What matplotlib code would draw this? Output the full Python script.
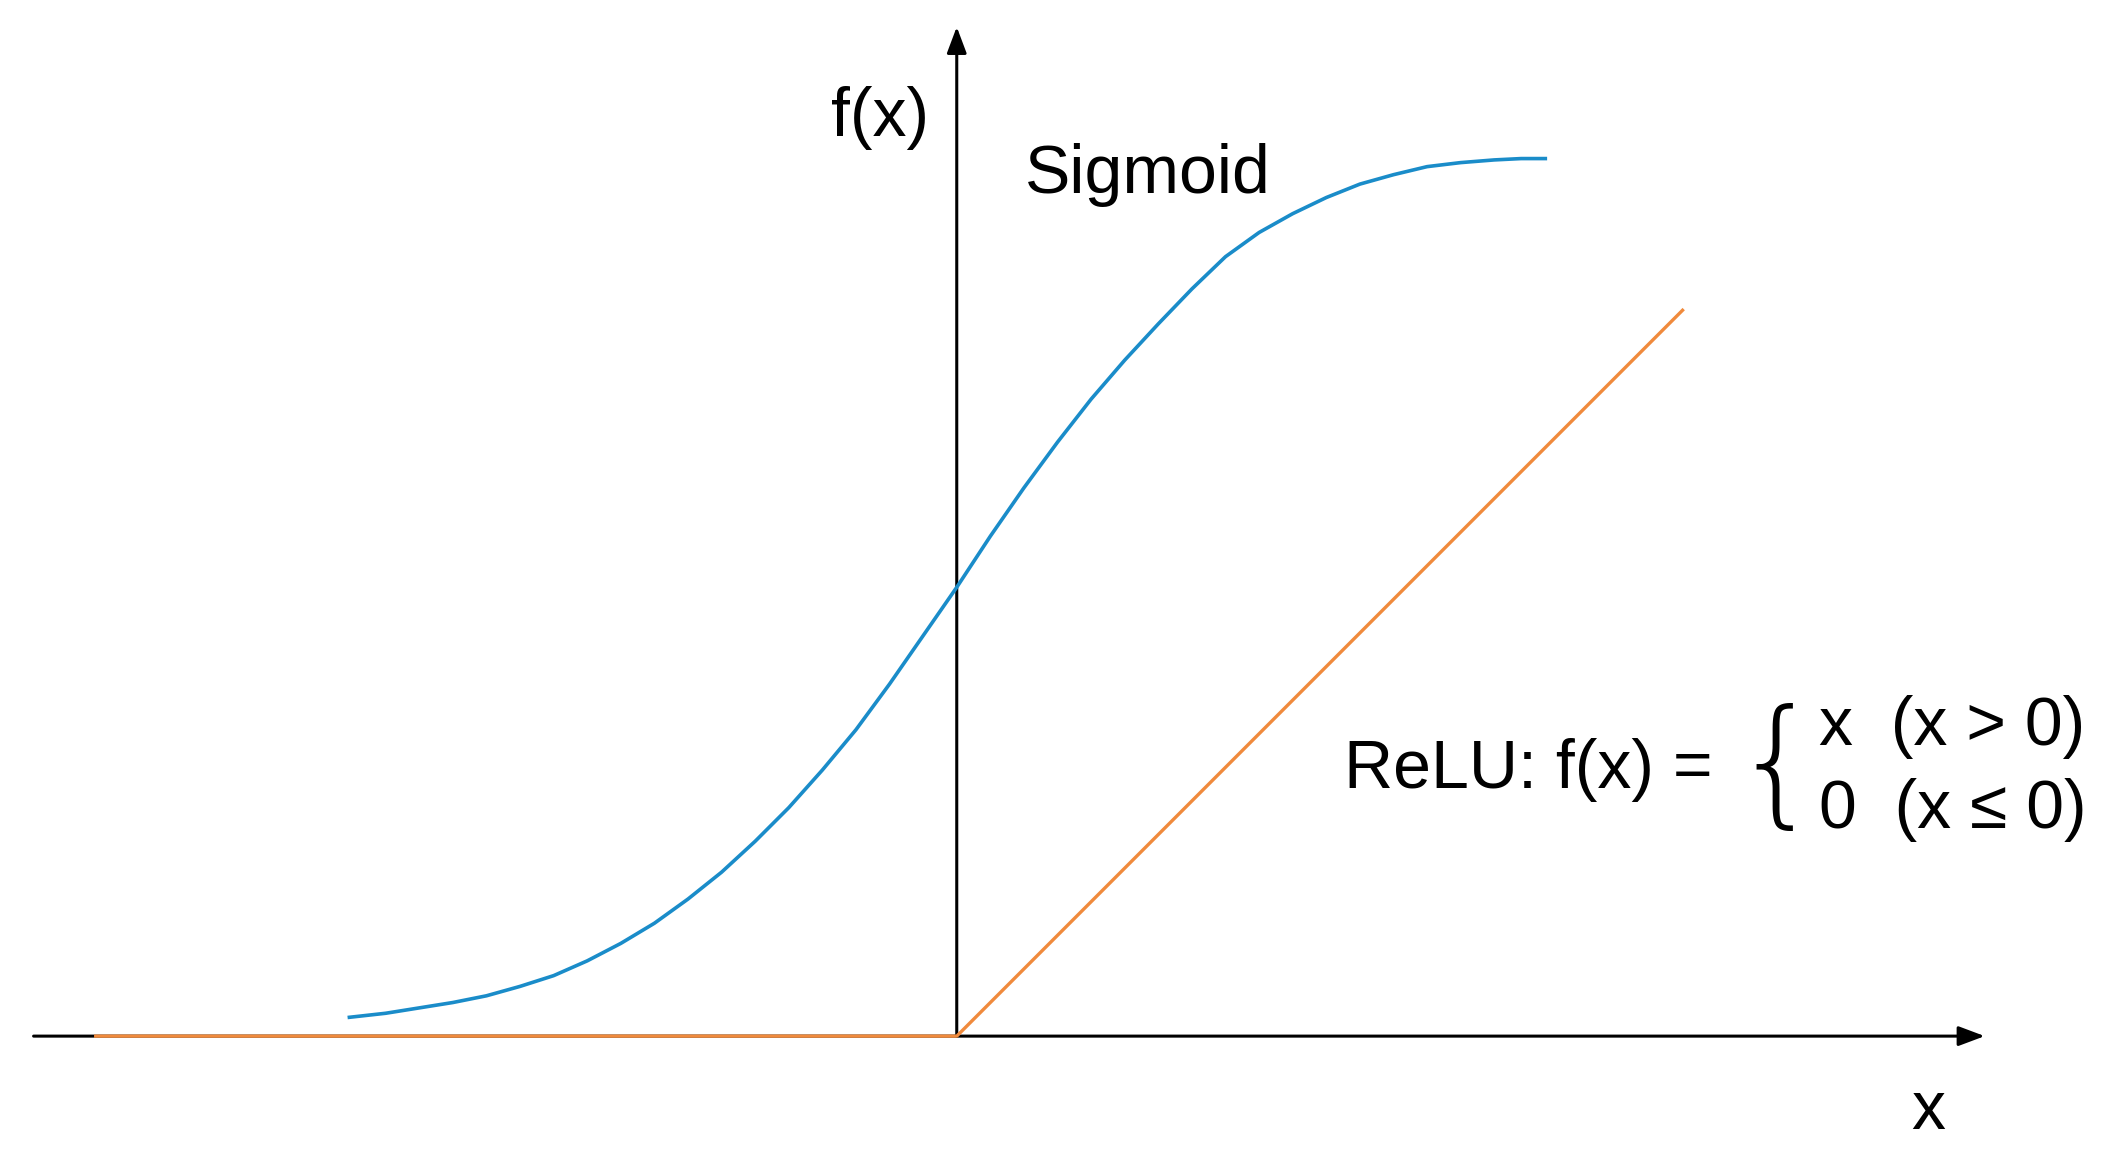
import matplotlib
matplotlib.use("Agg")
import matplotlib.pyplot as plt

# Sigmoid curve
sig_x = [-4.52, -4.25, -4.0, -3.75, -3.5, -3.25, -3.0, -2.75, -2.5, -2.25, -2.0, -1.75, -1.5, -1.25, -1.0, -0.75, -0.5, -0.25,
         0.0, 0.25, 0.5, 0.75, 1.0, 1.25, 1.5, 1.75, 2.0, 2.25, 2.5, 2.75, 3.0, 3.25, 3.5, 3.75, 4.0, 4.2, 4.38]
sig_y = [0.14, 0.17, 0.21, 0.25, 0.30, 0.37, 0.45, 0.56, 0.69, 0.84, 1.02, 1.22, 1.45, 1.70, 1.98, 2.28, 2.62, 2.98,
         3.34, 3.72, 4.08, 4.42, 4.74, 5.03, 5.30, 5.56, 5.80, 5.98, 6.12, 6.24, 6.34, 6.41, 6.47, 6.50, 6.52, 6.53, 6.53]
# ReLU
relu_x = [-6.42, 0.0, 5.41]
relu_y = [0.0, 0.0, 5.41]

BLUE = "#1a8cc9"
ORANGE = "#f08a3c"
FONT = "Liberation Sans"

fig = plt.figure(figsize=(21.07, 11.49), dpi=100)
ax = fig.add_axes([0, 0, 1, 1])
ax.set_xlim(-7.12, 8.56)
ax.set_ylim(-0.84, 7.71)
ax.axis("off")

ap = dict(arrowstyle="-|>,head_length=1.6,head_width=0.6", color="black", lw=2.2, shrinkA=0, shrinkB=0)
ax.annotate("", xy=(7.65, 0), xytext=(-6.87, 0), arrowprops=ap)
ax.annotate("", xy=(0, 7.51), xytext=(0, 0), arrowprops=ap)

ax.plot(relu_x, relu_y, color=ORANGE, lw=2.4, solid_capstyle="butt", zorder=5)
ax.plot(sig_x, sig_y, color=BLUE, lw=2.6, zorder=5)

FS = 49
ax.text(-0.57, 6.83, "f(x)", fontsize=FS, family=FONT, ha="center", va="center")
ax.text(7.23, -0.56, "x", fontsize=FS, family=FONT, ha="center", va="center")
ax.text(1.42, 6.41, "Sigmoid", fontsize=FS, family=FONT, ha="center", va="center")
ax.text(2.88, 1.98, "ReLU: f(x) = ", fontsize=FS, family=FONT, ha="left", va="center")
ax.text(6.10, 1.98, "{", fontsize=100, family="DejaVu Sans", ha="center", va="center", fontweight="light")
ax.text(6.42, 2.30, "x  (x > 0)", fontsize=FS, family=FONT, ha="left", va="center")
ax.text(6.42, 1.68, "0  (x ≤ 0)", fontsize=FS, family=FONT, ha="left", va="center")

fig.savefig("out.png", dpi=100, facecolor="white")
